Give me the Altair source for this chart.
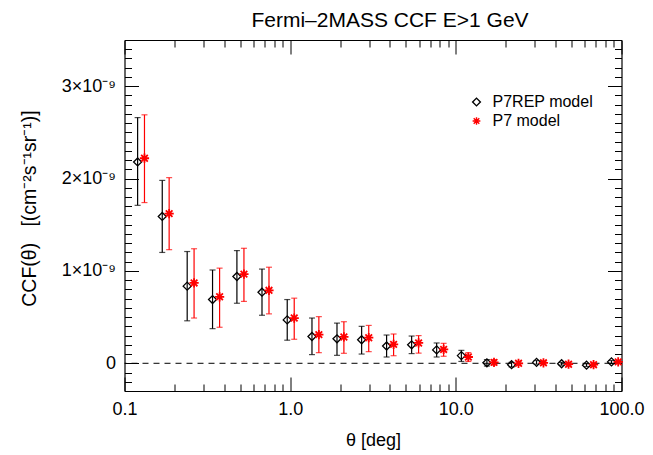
import altair as alt
import pandas as pd
import numpy as np

FONT = "Liberation Sans"
W, H = 497, 351

models = ["P7REP model", "P7 model"]

# --- P7REP model (black diamonds); CCF in units of 1e-9 cm^-2 s^-1 sr^-1
theta_p7rep = [0.120, 0.169, 0.239, 0.340, 0.477, 0.676, 0.960, 1.354, 1.917, 2.70,
               3.82, 5.41, 7.66, 10.8, 15.4, 21.7, 30.7, 43.5, 61.5, 87.0]
ccf_p7rep = [2.18, 1.59, 0.835, 0.69, 0.94, 0.77, 0.47, 0.29, 0.265, 0.255,
             0.187, 0.20, 0.145, 0.083, 0.005, -0.015, 0.01, -0.005, -0.02, 0.015]
lo_p7rep = [1.71, 1.20, 0.46, 0.375, 0.65, 0.52, 0.25, 0.094, 0.086, 0.10,
            0.068, 0.105, 0.068, 0.02, -0.03, -0.04, -0.01, -0.02, -0.035, 0.0]
hi_p7rep = [2.66, 1.98, 1.21, 1.01, 1.22, 1.02, 0.69, 0.49, 0.435, 0.40,
            0.306, 0.295, 0.22, 0.14, 0.04, 0.01, 0.03, 0.01, -0.005, 0.03]

# --- P7 model (red asterisks)
theta_p7 = [0.132, 0.186, 0.263, 0.375, 0.526, 0.745, 1.058, 1.49, 2.11, 2.98,
            4.21, 5.96, 8.44, 11.9, 17.0, 23.9, 33.8, 47.9, 67.8, 95.5]
ccf_p7 = [2.22, 1.62, 0.87, 0.72, 0.965, 0.79, 0.49, 0.31, 0.285, 0.277,
          0.205, 0.22, 0.15, 0.068, 0.01, 0.0, 0.005, -0.01, -0.015, 0.015]
lo_p7 = [1.74, 1.23, 0.49, 0.39, 0.67, 0.535, 0.26, 0.115, 0.108, 0.126,
         0.082, 0.11, 0.076, 0.02, -0.02, -0.02, -0.01, -0.025, -0.03, 0.0]
hi_p7 = [2.69, 2.01, 1.24, 1.03, 1.245, 1.04, 0.705, 0.505, 0.45, 0.41,
         0.317, 0.30, 0.216, 0.115, 0.04, 0.02, 0.02, 0.005, 0.0, 0.03]

x_major = [0.1, 1, 10, 100]
x_minor = [0.2, 0.3, 0.4, 0.5, 0.6, 0.7, 0.8, 0.9,
           2, 3, 4, 5, 6, 7, 8, 9,
           20, 30, 40, 50, 60, 70, 80, 90]
y_major = [0, 1, 2, 3]
y_minor = [round(v, 1) for v in np.arange(-0.2, 3.45, 0.1)]

df_b = pd.DataFrame({"theta": theta_p7rep, "ccf": ccf_p7rep, "lo": lo_p7rep,
                     "hi": hi_p7rep, "model": models[0]})
df_r = pd.DataFrame({"theta": theta_p7, "ccf": ccf_p7, "lo": lo_p7,
                     "hi": hi_p7, "model": models[1]})
df_zero = pd.DataFrame({"y": [0.0]})

xs = alt.Scale(type="log", domain=[0.1, 100], nice=False)
ys = alt.Scale(domain=[-0.3, 3.5], nice=False, zero=False)

ASTERISK = "M-1,0L1,0M0,-1L0,1M-0.72,-0.72L0.72,0.72M-0.72,0.72L0.72,-0.72"

base = dict(grid=False, domainColor="black", tickColor="black",
            labelColor="black", titleColor="black")


def tick_axis(orient, values, size, offset=None, domain=False):
    kw = dict(base)
    kw.update(orient=orient, values=values, tickSize=size, tickWidth=1,
              labels=False, domain=domain, domainWidth=1.2, title=None)
    if offset is not None:
        kw["offset"] = offset
    return alt.Axis(**kw)


x_main = alt.Axis(orient="bottom", values=x_major, ticks=False, tickSize=0,
                  labelExpr="datum.value < 0.5 ? '0.1' : format(datum.value, '.1f')",
                  labelFont=FONT, labelFontSize=18, labelPadding=9, labelFlush=False,
                  domain=True, domainWidth=1.2,
                  title="θ [deg]", titleFont=FONT, titleFontSize=18,
                  titleFontWeight="normal", titleX=W / 2, titleY=49,
                  titleBaseline="middle", titleAlign="center", **base)
y_main = alt.Axis(orient="left", values=y_major, ticks=False, tickSize=0,
                  labelExpr="datum.value == 0 ? '0' : datum.value + '×10⁻⁹'",
                  labelFont=FONT, labelFontSize=18, labelPadding=9,
                  domain=True, domainWidth=1.2,
                  title="CCF(θ)\u00a0\u00a0\u00a0[(cm⁻²s⁻¹sr⁻¹)]", titleFont=FONT, titleFontSize=19.5,
                  titleFontWeight="normal", titleAngle=270, titleX=-95, titleY=168,
                  titleBaseline="middle", titleAlign="center", **base)


def X(axis, field="theta"):
    return alt.X(f"{field}:Q", scale=xs, axis=axis)


def Y(axis, field):
    return alt.Y(f"{field}:Q", scale=ys, axis=axis)


zero = alt.Chart(df_zero).mark_rule(color="black", strokeWidth=1, strokeDash=[6, 5]).encode(
    y=Y(None, "y"))

bars_b = alt.Chart(df_b).mark_rule(color="black", strokeWidth=1.2).encode(
    x=X(x_main), y=Y(y_main, "lo"), y2="hi:Q")
caplo_b = alt.Chart(df_b).mark_tick(color="black", orient="horizontal", size=6, thickness=1.2).encode(
    x=X(tick_axis("top", x_major, 14, offset=-H)),
    y=Y(tick_axis("right", y_major, 14, offset=-W), "lo"))
caphi_b = alt.Chart(df_b).mark_tick(color="black", orient="horizontal", size=6, thickness=1.2).encode(
    x=X(tick_axis("top", x_minor, 7, offset=-H)),
    y=Y(tick_axis("right", y_minor, 7, offset=-W), "hi"))

bars_r = alt.Chart(df_r).mark_rule(color="red", strokeWidth=1.2).encode(
    x=X(tick_axis("bottom", x_major, 14, offset=-H, domain=True)),
    y=Y(tick_axis("left", y_major, 14, offset=-W, domain=True), "lo"), y2="hi:Q")
caplo_r = alt.Chart(df_r).mark_tick(color="red", orient="horizontal", size=6, thickness=1.2).encode(
    x=X(tick_axis("bottom", x_minor, 7, offset=-H)),
    y=Y(tick_axis("left", y_minor, 7, offset=-W), "lo"))
caphi_r = alt.Chart(df_r).mark_tick(color="red", orient="horizontal", size=6, thickness=1.2).encode(
    x=X(None), y=Y(None, "hi"))

leg = alt.Legend(title=None, orient="none", legendX=344, legendY=54, padding=0,
                 labelFont=FONT, labelFontSize=16, labelColor="black", labelOffset=8,
                 symbolSize=60, symbolStrokeWidth=1.4, rowPadding=3)
color_enc = alt.Color("model:N", scale=alt.Scale(domain=models, range=["black", "red"]), legend=leg)
shape_enc = alt.Shape("model:N", scale=alt.Scale(domain=models, range=["diamond", ASTERISK]), legend=leg)

pts_b = alt.Chart(df_b).mark_point(filled=False, size=64, strokeWidth=1.3, opacity=1).encode(
    x=X(None), y=Y(None, "ccf"), color=color_enc, shape=shape_enc)
pts_r = alt.Chart(df_r).mark_point(filled=False, size=85, strokeWidth=1.8, opacity=1).encode(
    x=X(None), y=Y(None, "ccf"), color=color_enc, shape=shape_enc)

chart = alt.layer(
    zero, bars_b, caplo_b, caphi_b, bars_r, caplo_r, caphi_r, pts_b, pts_r
).resolve_axis(x="independent", y="independent").properties(
    width=W, height=H,
    autosize="none",
    padding={"left": 124.5, "top": 40, "right": 31.5, "bottom": 64},
    title=alt.TitleParams("Fermi–2MASS CCF E>1 GeV", font=FONT, fontSize=21,
                          fontWeight="normal", color="black", anchor="middle",
                          dx=17, offset=9),
    background="white",
).configure_view(stroke=None)

chart.save("out.html", embed_options={"renderer": "svg", "actions": False})
